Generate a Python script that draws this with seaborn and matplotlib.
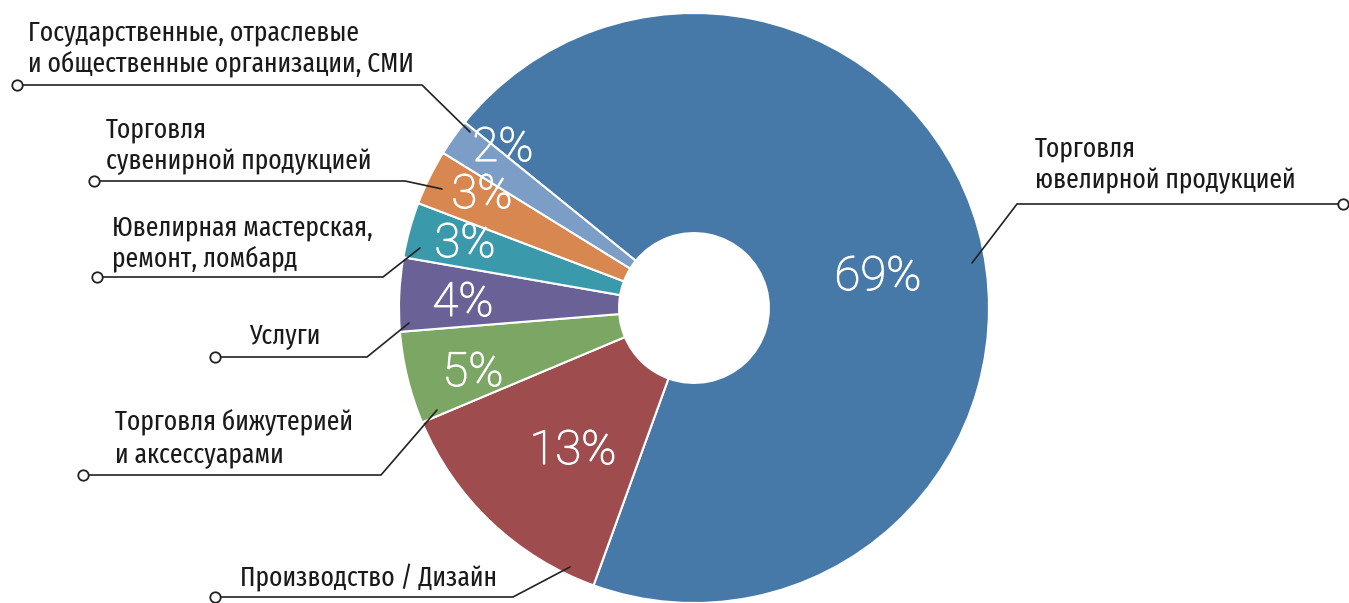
import matplotlib
matplotlib.use("Agg")
import matplotlib.pyplot as plt
import matplotlib.patheffects as pe
import seaborn as sns

# Data
categories = [
    "Торговля\nювелирной продукцией",
    "Производство / Дизайн",
    "Торговля бижутерией\nи аксессуарами",
    "Услуги",
    "Ювелирная мастерская,\nремонт, ломбард",
    "Торговля\nсувенирной продукцией",
    "Государственные, отраслевые\nи общественные организации, СМИ",
]
shares = [69, 13, 5, 4, 3, 3, 2]
pct_labels = [f"{v}%" for v in shares]
colors = ["#4679a8", "#9e4c4e", "#7ca663", "#6a6197", "#3a9aab", "#d7874f", "#7b9dc6"]

# Layout (pixel positions in the 1349x603 canvas)
W, H = 1349, 603
CX, CY, R = 694, 308, 295
pct_pos = [(878, 277), (573, 451), (473, 373), (463, 303), (465, 244), (482, 195), (503, 148)]
# text x, first baseline, circle (x, y), corner x, end (x, y)
callouts = [
    (1035, 156, (1343, 204), 1017, (972, 263)),
    (240, 586, (215, 597), 513, (570, 567)),
    (115, 430, (83, 475), 381, (437, 410)),
    (249, 343, (215, 357), 367, (409, 323)),
    (112, 235, (97, 277), 383, (420, 248)),
    (106, 137, (94, 181), 405, (442, 189)),
    (28, 40, (17, 85), 422, (470, 132)),
]
LINE_H = 32


def px(x, y):
    return (x - CX) / R, (CY - y) / R


sns.set_theme(style="white")
plt.rcParams["font.family"] = ["Fira Sans Extra Condensed", "Roboto", "DejaVu Sans"]

fig = plt.figure(figsize=(W / 100, H / 100), dpi=100)
ax = fig.add_axes([0, 0, 1, 1])

wedges, _ = ax.pie(
    shares, colors=colors, startangle=141, counterclock=False, radius=1,
    wedgeprops=dict(width=0.746, edgecolor="white", linewidth=1.5),
)
ax.set_xlim(-CX / R, (W - CX) / R)
ax.set_ylim((CY - H) / R, CY / R)
ax.set_aspect("auto")
ax.axis("off")

# percentages inside the ring (thin face, slightly thickened)
thicken = [pe.withStroke(linewidth=0.8, foreground="white")]
for lab, (x, y) in zip(pct_labels, pct_pos):
    ax.text(*px(x, y), lab, color="white", fontsize=34, fontfamily=["Roboto", "DejaVu Sans"],
            fontweight="light", ha="center", va="center", path_effects=thicken)

# callout labels with leader lines
for cat, (tx, ty, (cx, cy), kx, (ex, ey)) in zip(categories, callouts):
    for i, line in enumerate(cat.split("\n")):
        ax.text(*px(tx, ty + i * LINE_H), line, fontsize=20, color="#1a1a1a",
                ha="left", va="baseline")
    p0, p1, p2 = px(cx, cy), px(kx, cy), px(ex, ey)
    ax.plot([p0[0], p1[0], p2[0]], [p0[1], p1[1], p2[1]], color="#222222", lw=1.2,
            solid_joinstyle="miter", clip_on=False, zorder=4)
    ax.plot(*p0, "o", mfc="white", mec="#222222", ms=7.5, mew=1.3, clip_on=False, zorder=5)

fig.savefig("out.png", dpi=100)
